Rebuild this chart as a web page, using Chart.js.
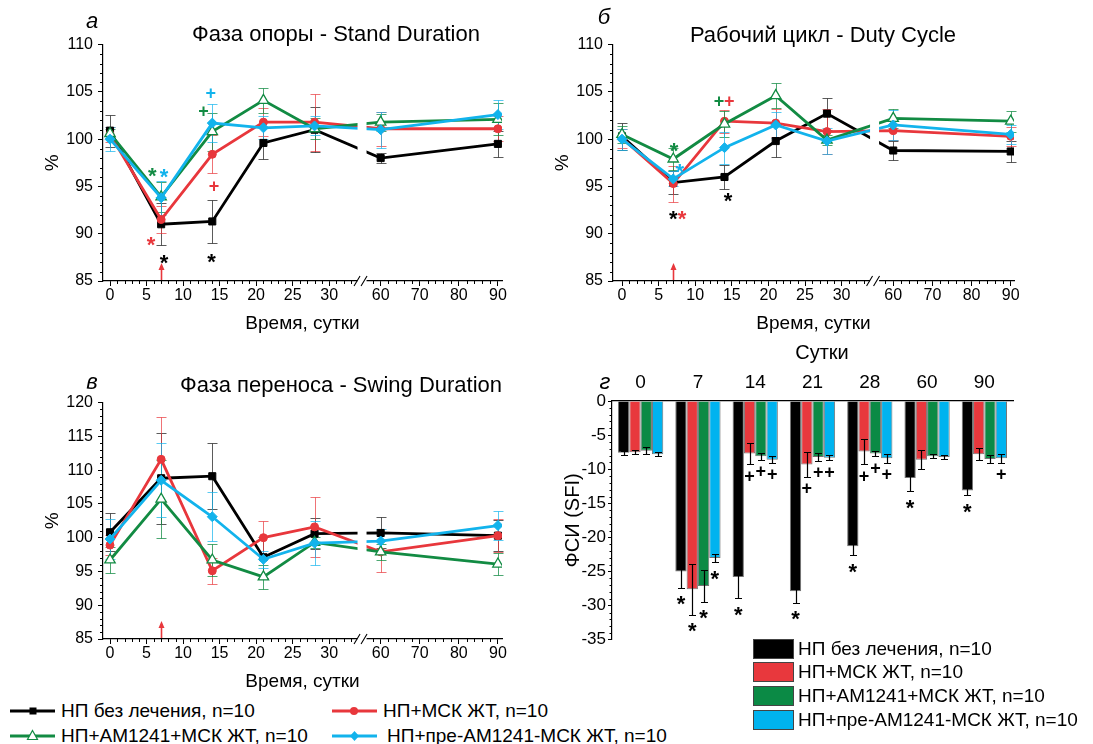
<!DOCTYPE html>
<html><head><meta charset="utf-8">
<script src="https://cdn.jsdelivr.net/npm/chart.js@4.4.1/dist/chart.umd.min.js"></script>
<style>
html,body{margin:0;padding:0;background:#fff;}
body{width:1093px;height:744px;position:relative;overflow:hidden;font-family:"Liberation Sans",Arial,sans-serif;color:#000;}
canvas{position:absolute;}
.t{position:absolute;white-space:nowrap;transform:translate(-50%,-50%);line-height:1;}
.ttl{font-size:22px;}
.let{font-size:22px;font-style:italic;}
.lg{position:absolute;display:flex;align-items:center;height:22px;font-size:19px;white-space:nowrap;}
.lg svg{margin-right:6px;}
.bl{position:absolute;display:flex;align-items:center;height:22px;font-size:19px;white-space:nowrap;}
.bl span.box{display:inline-block;width:41px;height:20px;border:1px solid #444;margin-right:4px;box-sizing:border-box;}
</style></head><body>

<canvas id="ca" width="520" height="310" style="left:0;top:30px"></canvas>
<canvas id="cb" width="530" height="310" style="left:510px;top:30px"></canvas>
<canvas id="cc" width="520" height="310" style="left:0;top:388px"></canvas>
<canvas id="cd" width="490" height="322" style="left:540px;top:330px"></canvas>

<div class="t let" style="left:92px;top:21px">а</div>
<div class="t ttl" style="left:336px;top:34px">Фаза опоры - Stand Duration</div>
<div class="t let" style="left:604px;top:17px">б</div>
<div class="t ttl" style="left:823px;top:35px">Рабочий цикл - Duty Cycle</div>
<div class="t let" style="left:92px;top:382px">в</div>
<div class="t ttl" style="left:341px;top:385px">Фаза переноса - Swing Duration</div>
<div class="t let" style="left:605px;top:382px">г</div>
<div class="t" style="left:822px;top:352px;font-size:20px">Сутки</div>

<div class="lg" style="left:10px;top:700px"><svg width="45" height="14"><line x1="0" y1="7" x2="45" y2="7" stroke="#000" stroke-width="3"/><rect x="19.5" y="3.5" width="7" height="7" fill="#000"/></svg>НП без лечения, n=10</div>
<div class="lg" style="left:332px;top:700px"><svg width="45" height="14"><line x1="0" y1="7" x2="45" y2="7" stroke="#e8373c" stroke-width="3"/><circle cx="22" cy="7" r="4" fill="#e8373c"/></svg>НП+МСК ЖТ, n=10</div>
<div class="lg" style="left:10px;top:725px"><svg width="45" height="14"><line x1="0" y1="7" x2="45" y2="7" stroke="#128b43" stroke-width="3"/><polygon points="22.5,1.5 27.5,10.5 17.5,10.5" fill="#fff" stroke="#128b43" stroke-width="1.2"/></svg>НП+АМ1241+МСК ЖТ, n=10</div>
<div class="lg" style="left:332px;top:725px"><svg width="45" height="14"><line x1="0" y1="7" x2="45" y2="7" stroke="#12b3ec" stroke-width="3"/><polygon points="22.5,2 27,7 22.5,12 18,7" fill="#12b3ec"/></svg><span style="padding-left:4px">НП+пре-АМ1241-МСК ЖТ, n=10</span></div>

<div class="bl" style="left:753px;top:638px"><span class="box" style="background:#000"></span>НП без лечения, n=10</div>
<div class="bl" style="left:753px;top:661px"><span class="box" style="background:#e8383d"></span>НП+МСК ЖТ, n=10</div>
<div class="bl" style="left:753px;top:685px"><span class="box" style="background:#0b8a45"></span>НП+АМ1241+МСК ЖТ, n=10</div>
<div class="bl" style="left:753px;top:709px"><span class="box" style="background:#00b3ef"></span>НП+пре-АМ1241-МСК ЖТ, n=10</div>

<script>
// ---------- data ----------
const days = [0, 7, 14, 21, 28, 60, 90];
const xTickDays = [0, 5, 10, 15, 20, 25, 30, 60, 70, 80, 90];
const seriesNames = ['НП без лечения, n=10', 'НП+МСК ЖТ, n=10', 'НП+АМ1241+МСК ЖТ, n=10', 'НП+пре-АМ1241-МСК ЖТ, n=10'];

// а: Stand Duration
const standBlack = [100.9, 91.0, 91.3, 99.6, 101.0, 98.0, 99.5];
const standRed   = [100.5, 91.5, 98.4, 101.8, 101.8, 101.1, 101.1];
const standGreen = [100.6, 93.9, 100.8, 104.1, 101.1, 101.8, 102.1];
const standBlue  = [100.0, 93.8, 101.7, 101.2, 101.4, 101.0, 102.6];
const standBlackErr = [1.7, 2.2, 2.3, 1.7, 2.4, 0.5, 1.4];
const standRedErr   = [0.8, 1.4, 2.0, 1.5, 3.0, 1.8, 1.3];
const standGreenErr = [0.5, 1.6, 2.0, 1.3, 1.1, 0.9, 1.7];
const standBlueErr  = [1.3, 1.8, 2.0, 1.2, 1.0, 1.9, 1.5];

// б: Duty Cycle
const dutyBlack = [100.3, 95.4, 96.0, 99.8, 102.7, 98.8, 98.7];
const dutyRed   = [100.1, 95.3, 101.9, 101.7, 100.8, 100.9, 100.3];
const dutyGreen = [100.5, 97.9, 101.6, 104.6, 99.9, 102.2, 101.9];
const dutyBlue  = [100.0, 95.8, 99.1, 101.5, 99.8, 101.5, 100.5];
const dutyBlackErr = [1.4, 1.2, 1.3, 1.7, 1.7, 1.0, 1.1];
const dutyRedErr   = [1.0, 1.9, 1.2, 1.5, 2.4, 1.0, 1.0];
const dutyGreenErr = [0.9, 1.2, 1.4, 1.3, 0.5, 1.0, 1.1];
const dutyBlueErr  = [1.1, 0.8, 1.7, 1.4, 1.4, 1.6, 1.0];

// в: Swing Duration
const swingBlack = [100.8, 108.8, 109.1, 97.1, 100.6, 100.7, 100.3];
const swingRed   = [98.9, 111.6, 95.1, 100.0, 101.6, 97.9, 100.3];
const swingGreen = [96.7, 105.7, 96.7, 94.2, 99.3, 97.9, 96.1];
const swingBlue  = [99.8, 108.5, 103.1, 96.8, 99.2, 99.5, 101.8];
const swingBlackErr = [2.8, 6.7, 4.9, 3.0, 2.3, 2.3, 2.3];
const swingRedErr   = [1.5, 6.2, 1.9, 2.4, 4.4, 3.0, 2.4];
const swingGreenErr = [1.9, 5.8, 2.3, 1.8, 0.8, 1.2, 1.6];
const swingBlueErr  = [2.9, 5.5, 3.6, 1.3, 3.2, 1.8, 2.1];

// г: SFI
const sfiLabels = ['0', '7', '14', '21', '28', '60', '90'];
const sfiBlack = [-7.6, -25.0, -25.8, -27.9, -21.3, -11.3, -13.1];
const sfiRed   = [-7.5, -27.6, -7.7, -9.3, -7.4, -8.6, -7.8];
const sfiGreen = [-7.3, -27.1, -8.1, -8.2, -7.7, -8.1, -8.5];
const sfiBlue  = [-7.8, -23.0, -8.6, -8.3, -8.4, -8.2, -8.4];
const sfiBlackErr = [0.3, 2.4, 3.1, 1.7, 1.3, 1.9, 0.7];
const sfiRedErr   = [0.3, 3.7, 1.6, 1.8, 1.9, 1.4, 0.9];
const sfiGreenErr = [0.5, 2.3, 0.5, 0.6, 0.4, 0.3, 0.6];
const sfiBlueErr  = [0.3, 0.6, 0.5, 0.4, 0.7, 0.3, 0.7];

// significance marks: [day, value, symbol, series]
const standNotes = [[5.8, 96.65, '*', 2], [7.4, 96.6, '*', 3], [5.6, 89.4, '*', 1], [7.4, 87.5, '*', 0],
                    [12.8, 103.0, '+', 2], [13.8, 104.95, '+', 3], [14.25, 95.1, '+', 1], [13.9, 87.6, '*', 0]];
const dutyNotes = [[7.1, 99.3, '*', 2], [7.9, 97.1, '*', 3], [7.0, 92.1, '*', 0], [8.2, 92.1, '*', 1],
                   [13.25, 104.1, '+', 2], [14.65, 104.1, '+', 1], [14.5, 94.0, '*', 0]];
// bar marks: [category index, series index, symbol]
const sfiNotes = [[1,0,'*'],[1,1,'*'],[1,2,'*'],[1,3,'*'],[2,0,'*'],[3,0,'*'],[4,0,'*'],[5,0,'*'],[6,0,'*'],
                  [2,1,'+'],[2,2,'+'],[2,3,'+'],[3,1,'+'],[3,2,'+'],[3,3,'+'],[4,1,'+'],[4,2,'+'],[4,3,'+'],[6,3,'+']];

// ---------- styling ----------
const COLORS = ['#000000', '#e8373c', '#128b43', '#12b3ec'];
const ERRC = ['rgba(50,50,50,0.8)', 'rgba(232,55,60,0.7)', 'rgba(18,139,67,0.75)', 'rgba(18,179,236,0.7)'];
const BARC = ['#000000', '#e8383d', '#0b8a45', '#00b3ef'];
const FONT = '"Liberation Sans", Arial, sans-serif';
Chart.defaults.font.family = FONT;
Chart.defaults.color = '#000';

// broken time axis: 0..35 linear, 60..90 compressed
const BREAK_START = 35, BREAK_END = 60, GAP_UNITS = 2.05, RIGHT_SCALE = 0.535, BREAK_MARK = 34.5;
function u(t) { return t <= BREAK_START ? t : BREAK_START + GAP_UNITS + (t - BREAK_END) * RIGHT_SCALE; }
const minorDays = [];
for (let d = 1; d < 35; d++) if (d % 5) minorDays.push(d);
for (let d = 56; d < 90; d += 2) if (d % 10) minorDays.push(d);

const STAR_SIZE = 22, PLUS_SIZE = 18;
function drawMark(ctx, s, x, y) {
  const size = s === '*' ? STAR_SIZE : PLUS_SIZE;
  ctx.font = 'bold ' + size + 'px ' + FONT;
  ctx.fillText(s, x, y + (s === '*' ? size * 0.57 : size * 0.35));
}

function decorLine(cfg) {
  return {
    id: 'decor',
    beforeDatasetsDraw(chart) {
      const { ctx, scales: { x, y } } = chart;
      ctx.save();
      ctx.lineWidth = 1;
      cfg.vals.forEach((s, i) => {
        ctx.strokeStyle = ERRC[i];
        s.forEach((v, j) => {
          const e = cfg.errs[i][j];
          const px = Math.round(x.getPixelForValue(u(days[j]))) + 0.5;
          const y1 = Math.round(y.getPixelForValue(v + e)) + 0.5;
          const y2 = Math.round(y.getPixelForValue(v - e)) + 0.5;
          ctx.beginPath();
          ctx.moveTo(px, y1); ctx.lineTo(px, y2);
          ctx.moveTo(px - 5, y1); ctx.lineTo(px + 5, y1);
          ctx.moveTo(px - 5, y2); ctx.lineTo(px + 5, y2);
          ctx.stroke();
        });
      });
      ctx.restore();
    },
    afterDraw(chart) {
      const { ctx, chartArea: ca, scales: { x, y } } = chart;
      ctx.save();
      ctx.strokeStyle = '#000'; ctx.lineWidth = 1;
      ctx.beginPath();
      minorDays.forEach(d => {
        const px = Math.round(x.getPixelForValue(u(d))) + 0.5;
        ctx.moveTo(px, ca.bottom); ctx.lineTo(px, ca.bottom + 3);
      });
      for (let v = cfg.ymin + 1; v < cfg.ymax; v++) {
        if (v % 5 === 0) continue;
        const py = Math.round(y.getPixelForValue(v)) + 0.5;
        ctx.moveTo(ca.left, py); ctx.lineTo(ca.left - 3, py);
      }
      ctx.stroke();
      // axis break
      const bx = x.getPixelForValue(BREAK_MARK);
      ctx.fillStyle = '#fff';
      ctx.fillRect(bx - 4.5, ca.top, 9, ca.bottom - ca.top + 3);
      ctx.beginPath();
      ctx.lineWidth = 1.1;
      ctx.moveTo(bx - 8, ca.bottom + 5); ctx.lineTo(bx - 2, ca.bottom - 5);
      ctx.moveTo(bx - 1, ca.bottom + 5); ctx.lineTo(bx + 5, ca.bottom - 5);
      ctx.stroke();
      // red arrow at day 7
      const ax = Math.round(x.getPixelForValue(u(7))) + 0.5;
      ctx.strokeStyle = '#e8373c'; ctx.fillStyle = '#e8373c'; ctx.lineWidth = 1.6;
      ctx.beginPath(); ctx.moveTo(ax, ca.bottom - 1); ctx.lineTo(ax, ca.bottom - 12); ctx.stroke();
      ctx.beginPath(); ctx.moveTo(ax, ca.bottom - 18); ctx.lineTo(ax - 3, ca.bottom - 11); ctx.lineTo(ax + 3, ca.bottom - 11); ctx.closePath(); ctx.fill();
      // significance marks
      ctx.textAlign = 'center'; ctx.textBaseline = 'alphabetic';
      (cfg.notes || []).forEach(n => {
        ctx.fillStyle = COLORS[n[3]];
        drawMark(ctx, n[2], x.getPixelForValue(n[0]), y.getPixelForValue(n[1]));
      });
      ctx.restore();
    }
  };
}

function lineChart(id, vals, errs, notes, xmin, xmax, ymin, ymax, padRight) {
  const styles = ['rect', 'circle', 'triangle', 'rectRot'];
  const radii = [5, 4, 6, 5];
  const orders = [3, 2, 1, 0];
  return new Chart(document.getElementById(id), {
    type: 'line',
    data: {
      datasets: vals.map((s, i) => ({
        label: seriesNames[i],
        data: days.map((d, j) => ({ x: u(d), y: s[j] })),
        borderColor: COLORS[i],
        backgroundColor: i === 2 ? '#ffffff' : COLORS[i],
        pointBackgroundColor: i === 2 ? '#ffffff' : COLORS[i],
        pointBorderColor: COLORS[i],
        pointStyle: styles[i],
        pointRadius: radii[i],
        pointBorderWidth: i === 2 ? 1.3 : 1,
        borderWidth: 2.8,
        tension: 0,
        order: orders[i]
      }))
    },
    options: {
      responsive: false, animation: false, events: [],
      layout: { padding: { top: 12, right: padRight, left: 0, bottom: 0 } },
      plugins: { legend: { display: false }, tooltip: { enabled: false } },
      scales: {
        x: {
          type: 'linear', min: xmin, max: xmax,
          afterBuildTicks: s => { s.ticks = xTickDays.map(d => ({ value: u(d) })); },
          ticks: { autoSkip: false, maxRotation: 0, font: { size: 16 }, color: '#000', padding: 0,
                   callback: (v, i) => String(xTickDays[i]) },
          grid: { drawOnChartArea: false, color: '#000', tickLength: 5 },
          border: { color: '#000', width: 1.2 },
          title: { display: true, text: 'Время, сутки', font: { size: 19 }, color: '#000', padding: { top: 0, bottom: 5 } },
          afterFit: s => { s.height = 59; }
        },
        y: {
          min: ymin, max: ymax,
          ticks: { stepSize: 5, font: { size: 16 }, color: '#000', padding: 5 },
          grid: { drawOnChartArea: false, color: '#000', tickLength: 5 },
          border: { color: '#000', width: 1.2 },
          title: { display: true, text: '%', font: { size: 19 }, color: '#000', padding: { top: 41, bottom: 0 } },
          afterFit: s => { s.width = 103; }
        }
      }
    },
    plugins: [decorLine({ vals, errs, notes, ymin, ymax })]
  });
}

lineChart('ca', [standBlack, standRed, standGreen, standBlue],
  [standBlackErr, standRedErr, standGreenErr, standBlueErr], standNotes, -0.96, 53.66, 85, 110, 18);
lineChart('cb', [dutyBlack, dutyRed, dutyGreen, dutyBlue],
  [dutyBlackErr, dutyRedErr, dutyGreenErr, dutyBlueErr], dutyNotes, -1.23, 53.55, 85, 110, 26);
lineChart('cc', [swingBlack, swingRed, swingGreen, swingBlue],
  [swingBlackErr, swingRedErr, swingGreenErr, swingBlueErr], [], -0.96, 53.66, 85, 120, 18);

// ---------- bar chart ----------
const sfiVals = [sfiBlack, sfiRed, sfiGreen, sfiBlue];
const sfiErrs = [sfiBlackErr, sfiRedErr, sfiGreenErr, sfiBlueErr];
const barDecor = {
  id: 'barDecor',
  afterDatasetsDraw(chart) {
    const { ctx, chartArea: ca, scales: { y } } = chart;
    ctx.save();
    ctx.strokeStyle = '#000'; ctx.lineWidth = 1.2;
    sfiVals.forEach((s, i) => {
      const meta = chart.getDatasetMeta(i);
      s.forEach((v, j) => {
        const e = sfiErrs[i][j];
        const px = Math.round(meta.data[j].x) + 0.5;
        const y1 = Math.round(y.getPixelForValue(v + e)) + 0.5;
        const y2 = Math.round(y.getPixelForValue(v - e)) + 0.5;
        ctx.beginPath();
        ctx.moveTo(px, y1); ctx.lineTo(px, y2);
        ctx.moveTo(px - 3.5, y1); ctx.lineTo(px + 3.5, y1);
        ctx.moveTo(px - 3.5, y2); ctx.lineTo(px + 3.5, y2);
        ctx.stroke();
      });
    });
    // minor y ticks
    ctx.lineWidth = 1;
    ctx.beginPath();
    for (let v = -34; v < 0; v++) {
      if (v % 5 === 0) continue;
      const py = Math.round(y.getPixelForValue(v)) + 0.5;
      ctx.moveTo(ca.left, py); ctx.lineTo(ca.left - 2.5, py);
    }
    ctx.stroke();
    // marks
    ctx.fillStyle = '#000'; ctx.textAlign = 'center'; ctx.textBaseline = 'alphabetic';
    sfiNotes.forEach(n => {
      const meta = chart.getDatasetMeta(n[1]);
      const v = sfiVals[n[1]][n[0]] - sfiErrs[n[1]][n[0]];
      drawMark(ctx, n[2], meta.data[n[0]].x, y.getPixelForValue(v) + 11);
    });
    ctx.restore();
  }
};

new Chart(document.getElementById('cd'), {
  type: 'bar',
  data: {
    labels: sfiLabels,
    datasets: sfiVals.map((s, i) => ({
      label: seriesNames[i], data: s,
      backgroundColor: BARC[i], borderColor: 'rgba(0,0,0,0.55)', borderWidth: 1,
      categoryPercentage: 0.79, barPercentage: 1
    }))
  },
  options: {
    responsive: false, animation: false, events: [],
    layout: { padding: { top: 0, right: 17, left: 0, bottom: 12 } },
    plugins: { legend: { display: false }, tooltip: { enabled: false } },
    scales: {
      x: {
        position: 'top', offset: true,
        grid: { drawOnChartArea: false, drawTicks: false },
        border: { color: '#000', width: 1.2 },
        ticks: { font: { size: 19 }, color: '#000', padding: 7 },
        afterFit: s => { s.height = 71; }
      },
      y: {
        min: -35, max: 0,
        ticks: { stepSize: 5, font: { size: 17 }, color: '#000', padding: 2 },
        grid: { drawOnChartArea: false, color: '#000', tickLength: 4 },
        border: { color: '#000', width: 1.2 },
        title: { display: true, text: 'ФСИ (SFI)', font: { size: 20 }, color: '#000', padding: { top: 21, bottom: 0 } },
        afterFit: s => { s.width = 72; }
      }
    }
  },
  plugins: [barDecor]
});
</script>
</body></html>
